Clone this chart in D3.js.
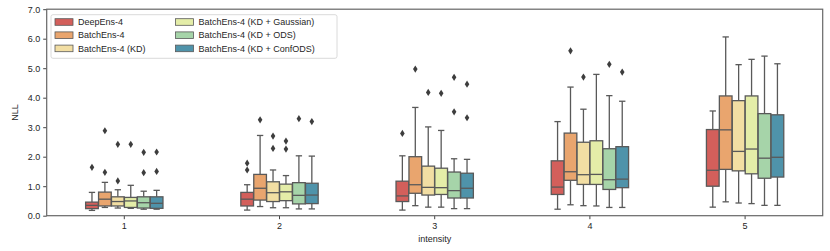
<!DOCTYPE html>
<html>
<head>
<meta charset="utf-8">
<script src="https://cdn.jsdelivr.net/npm/d3@7"></script>
<style>
  body { margin: 0; background: #fff; }
  text { font-family: "Liberation Sans", Arial, sans-serif; fill: #262626; }
</style>
</head>
<body>
<svg id="chart" width="830" height="251"></svg>
<script>
// intensity levels on the x axis
var intensities = ["1", "2", "3", "4", "5"];
var seriesNames = ["DeepEns-4", "BatchEns-4", "BatchEns-4 (KD)",
                   "BatchEns-4 (KD + Gaussian)", "BatchEns-4 (KD + ODS)", "BatchEns-4 (KD + ConfODS)"];
var yTicks = [0, 1, 2, 3, 4, 5, 6, 7];

// box stats per intensity: [lower whisker, q1, median, q3, upper whisker]
var deepEns = [[0.18, 0.24, 0.35, 0.46, 0.79], [0.19, 0.33, 0.56, 0.79, 1.05], [0.19, 0.48, 0.67, 1.17, 2.03],
               [0.22, 0.72, 0.97, 1.86, 3.19], [0.29, 1.00, 1.54, 2.92, 3.55]];
var batchEns = [[0.28, 0.33, 0.56, 0.80, 1.13], [0.31, 0.53, 0.93, 1.40, 2.72], [0.34, 0.76, 1.05, 2.00, 3.67],
                [0.37, 1.20, 1.49, 2.80, 4.36], [0.47, 1.57, 2.91, 4.06, 6.06]];
var batchKD = [[0.26, 0.33, 0.48, 0.64, 0.88], [0.27, 0.48, 0.78, 1.15, 1.55], [0.29, 0.70, 0.96, 1.68, 3.01],
               [0.34, 1.06, 1.39, 2.49, 3.61], [0.43, 1.52, 2.18, 3.90, 5.12]];
var batchGauss = [[0.25, 0.28, 0.50, 0.62, 1.03], [0.27, 0.51, 0.81, 1.07, 1.36], [0.29, 0.72, 0.95, 1.61, 2.89],
                  [0.33, 1.06, 1.40, 2.54, 4.79], [0.41, 1.42, 2.26, 4.06, 5.30]];
var batchODS = [[0.22, 0.26, 0.44, 0.64, 0.83], [0.23, 0.40, 0.69, 1.12, 2.03], [0.24, 0.60, 0.85, 1.48, 1.93],
                [0.28, 0.89, 1.22, 2.27, 4.07], [0.35, 1.27, 1.95, 3.46, 5.41]];
var batchConf = [[0.22, 0.25, 0.42, 0.64, 0.86], [0.23, 0.41, 0.70, 1.10, 2.02], [0.24, 0.60, 0.93, 1.44, 1.91],
                 [0.28, 0.95, 1.24, 2.34, 3.88], [0.35, 1.31, 1.98, 3.42, 5.15]];

// outliers per intensity
var deepEnsOut = [[1.64], [1.55, 1.78], [2.79], [], []];
var batchEnsOut = [[1.47, 2.88], [3.25], [4.97], [5.59], []];
var batchKDOut = [[1.18, 2.42], [2.28, 2.70], [4.18], [4.70], []];
var batchGaussOut = [[2.42], [2.26, 2.53], [4.15], [], []];
var batchODSOut = [[1.46, 2.15], [3.29], [3.52, 4.69], [5.13], []];
var batchConfOut = [[1.50, 2.16], [3.19], [3.32, 4.46], [4.87], []];

var colors = ["#d35f5b", "#e9a56e", "#f2dea3", "#e4eda8", "#a6d4a9", "#4f93aa"];

var stats = [deepEns, batchEns, batchKD, batchGauss, batchODS, batchConf];
var outliers = [deepEnsOut, batchEnsOut, batchKDOut, batchGaussOut, batchODSOut, batchConfOut];

var svg = d3.select("#chart"),
    plotLeft = 46.7, plotRight = 822.7, plotTop = 9.2, plotBottom = 215.7,
    lineColor = "#595959";

var x = d3.scaleBand().domain(intensities).range([plotLeft, plotRight]);
var y = d3.scaleLinear().domain([0, 7]).range([plotBottom, plotTop]);
var hue = d3.scaleBand().domain(seriesNames)
    .range([-x.bandwidth() * 0.25, x.bandwidth() * 0.25]);
var boxW = hue.bandwidth() * 0.98;

// flatten into box records
var boxes = [];
seriesNames.forEach(function(name, si) {
  intensities.forEach(function(cat, ci) {
    var s = stats[si][ci];
    boxes.push({ name: name, cat: cat, color: colors[si],
      lo: s[0], q1: s[1], med: s[2], q3: s[3], hi: s[4], out: outliers[si][ci] });
  });
});

// axes
var yAxis = svg.append("g")
    .attr("transform", "translate(" + plotLeft + ",0)")
    .call(d3.axisLeft(y).tickValues(yTicks).tickFormat(d3.format(".1f")).tickSize(3.5).tickPadding(3));
var xAxis = svg.append("g")
    .attr("transform", "translate(0," + plotBottom + ")")
    .call(d3.axisBottom(x).tickSize(3.5).tickPadding(3.5));
[yAxis, xAxis].forEach(function(a) {
  a.select(".domain").remove();
  a.selectAll("line").attr("stroke", "#444").attr("stroke-width", 1);
  a.selectAll("text").style("font-size", "9px").style("fill", "#262626");
});

// frame
svg.append("rect")
    .attr("x", plotLeft).attr("y", plotTop)
    .attr("width", plotRight - plotLeft).attr("height", plotBottom - plotTop)
    .attr("fill", "none").attr("stroke", "#666").attr("stroke-width", 1.2);

var g = svg.append("g");
var box = g.selectAll("g.box").data(boxes).enter().append("g")
    .attr("class", "box")
    .attr("transform", function(d) { return "translate(" + (x(d.cat) + x.bandwidth() / 2 + hue(d.name) + hue.bandwidth() / 2) + ",0)"; });

// whiskers
box.append("line")
    .attr("x1", 0).attr("x2", 0)
    .attr("y1", function(d) { return y(d.q3); }).attr("y2", function(d) { return y(d.hi); })
    .attr("stroke", lineColor).attr("stroke-width", 1.3);
box.append("line")
    .attr("x1", 0).attr("x2", 0)
    .attr("y1", function(d) { return y(d.q1); }).attr("y2", function(d) { return y(d.lo); })
    .attr("stroke", lineColor).attr("stroke-width", 1.3);
// caps
["lo", "hi"].forEach(function(k) {
  box.append("line")
      .attr("x1", -boxW / 4).attr("x2", boxW / 4)
      .attr("y1", function(d) { return y(d[k]); }).attr("y2", function(d) { return y(d[k]); })
      .attr("stroke", lineColor).attr("stroke-width", 1.3);
});
// box body
box.append("rect")
    .attr("x", -boxW / 2).attr("width", boxW)
    .attr("y", function(d) { return y(d.q3); })
    .attr("height", function(d) { return y(d.q1) - y(d.q3); })
    .attr("fill", function(d) { return d.color; })
    .attr("stroke", lineColor).attr("stroke-width", 1.3);
// median
box.append("line")
    .attr("x1", -boxW / 2).attr("x2", boxW / 2)
    .attr("y1", function(d) { return y(d.med); }).attr("y2", function(d) { return y(d.med); })
    .attr("stroke", lineColor).attr("stroke-width", 1.3);
// fliers (thin diamonds)
box.selectAll("path.flier").data(function(d) { return d.out; }).enter().append("path")
    .attr("class", "flier")
    .attr("d", function(v) { var cy = y(v); return "M0," + (cy - 3.6) + "L2.3," + cy + "L0," + (cy + 3.6) + "L-2.3," + cy + "Z"; })
    .attr("fill", "#3d3d3d");

// axis labels
svg.append("text")
    .attr("x", (plotLeft + plotRight) / 2).attr("y", 241.5)
    .attr("text-anchor", "middle").style("font-size", "9px")
    .text("intensity");
svg.append("text")
    .attr("transform", "translate(18," + ((plotTop + plotBottom) / 2) + ") rotate(-90)")
    .attr("text-anchor", "middle").style("font-size", "9px")
    .text("NLL");

// legend
var legend = svg.append("g");
legend.append("rect")
    .attr("x", 51).attr("y", 14.7).attr("width", 286).attr("height", 43.6)
    .attr("rx", 2).attr("fill", "#fff").attr("fill-opacity", 0.8)
    .attr("stroke", "#d0d0d0").attr("stroke-width", 0.8);
var item = legend.selectAll("g.item").data(seriesNames).enter().append("g")
    .attr("class", "item")
    .attr("transform", function(d, i) { return "translate(" + (i < 3 ? 55 : 175.5) + "," + (22 + (i % 3) * 13.2) + ")"; });
item.append("rect")
    .attr("x", 0).attr("y", -3.3).attr("width", 18).attr("height", 6.6)
    .attr("fill", function(d, i) { return colors[i]; })
    .attr("stroke", lineColor).attr("stroke-width", 0.8);
item.append("text")
    .attr("x", 23).attr("y", 3.2)
    .style("font-size", "9px")
    .text(function(d) { return d; });
</script>
</body>
</html>
